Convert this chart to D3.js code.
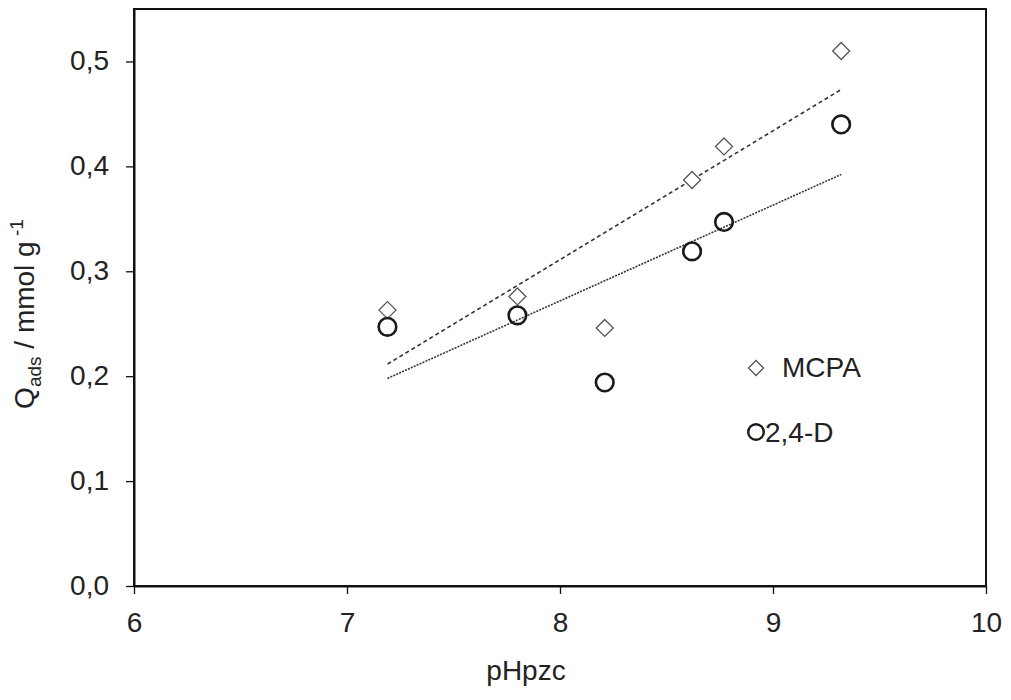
<!DOCTYPE html>
<html>
<head>
<meta charset="utf-8">
<script src="https://cdn.jsdelivr.net/npm/d3@7"></script>
<style>
  html, body { margin: 0; padding: 0; background: #fff; }
  svg { display: block; font-family: "Liberation Sans", Arial, sans-serif; }
</style>
</head>
<body>
<svg id="chart" width="1011" height="700"></svg>
<script>
// pH at the point of zero charge for each adsorbent
const pHpzc = [7.19, 7.80, 8.21, 8.62, 8.77, 9.32];
// adsorbed amount (mmol/g) for each herbicide
const mcpa = [0.263, 0.276, 0.246, 0.387, 0.419, 0.510];
const d24 = [0.247, 0.258, 0.194, 0.319, 0.347, 0.440];
const xTicks = [6, 7, 8, 9, 10];
const yTicks = [0, 0.1, 0.2, 0.3, 0.4, 0.5];

const svg = d3.select("#chart");
const plotLeft = 134, plotRight = 986, plotTop = 9, plotBottom = 586;

const x = d3.scaleLinear().domain([6, 10]).range([plotLeft, plotRight]);
const y = d3.scaleLinear().domain([0, 0.55]).range([plotBottom, plotTop]);

const fmtY = v => d3.format(".1f")(v).replace(".", ",");

// frame
svg.append("rect")
  .attr("x", plotLeft).attr("y", plotTop)
  .attr("width", plotRight - plotLeft).attr("height", plotBottom - plotTop)
  .attr("fill", "none").attr("stroke", "#111").attr("stroke-width", 2);

// axes
const xAxis = svg.append("g")
  .attr("transform", `translate(0,${plotBottom})`)
  .call(d3.axisBottom(x).tickValues(xTicks).tickFormat(d3.format("d"))
    .tickSize(8).tickPadding(10).tickSizeOuter(0));
const yAxis = svg.append("g")
  .attr("transform", `translate(${plotLeft},0)`)
  .call(d3.axisLeft(y).tickValues(yTicks).tickFormat(fmtY)
    .tickSize(8).tickPadding(17).tickSizeOuter(0));

[xAxis, yAxis].forEach(a => {
  a.select(".domain").attr("stroke", "#111").attr("stroke-width", 2);
  a.selectAll(".tick line").attr("stroke", "#111").attr("stroke-width", 1.3);
  a.selectAll(".tick text")
    .attr("fill", "#222")
    .style("font-size", "28px")
    .style("font-family", "'Liberation Sans', Arial, sans-serif");
});
yAxis.selectAll(".tick text").attr("dy", "0.3em");
xAxis.selectAll(".tick text").attr("y", 46).attr("dy", 0);

// axis titles
svg.append("text")
  .attr("x", 526).attr("y", 680)
  .attr("text-anchor", "middle")
  .attr("fill", "#222")
  .style("font-size", "28px")
  .text("pHpzc");

const yt = svg.append("text")
  .attr("transform", "translate(34,314) rotate(-90)")
  .attr("text-anchor", "middle")
  .attr("fill", "#222")
  .style("font-size", "28px");
yt.append("tspan").text("Q");
yt.append("tspan").attr("dy", 7).style("font-size", "19px").text("ads");
yt.append("tspan").attr("dy", -7).text(" / mmol g");
yt.append("tspan").attr("dy", -11).style("font-size", "19px").text(" -1");

// least-squares trend line over the measured range
function fit(xs, ys) {
  const mx = d3.mean(xs), my = d3.mean(ys);
  const sxy = d3.sum(xs, (v, i) => (v - mx) * (ys[i] - my));
  const sxx = d3.sum(xs, v => (v - mx) * (v - mx));
  const b = sxy / sxx, a = my - b * mx;
  const x0 = d3.min(xs), x1 = d3.max(xs);
  return [[x0, a + b * x0], [x1, a + b * x1]];
}
const line = d3.line().x(d => x(d[0])).y(d => y(d[1]));

svg.append("path")
  .attr("d", line(fit(pHpzc, mcpa)))
  .attr("fill", "none").attr("stroke", "#333").attr("stroke-width", 1.6)
  .attr("stroke-dasharray", "4,3");
svg.append("path")
  .attr("d", line(fit(pHpzc, d24)))
  .attr("fill", "none").attr("stroke", "#333").attr("stroke-width", 1.6)
  .attr("stroke-dasharray", "2,1.2");

const diamond = s => `M0,${-s}L${s},0L0,${s}L${-s},0Z`;

// MCPA markers
svg.append("g").selectAll("path")
  .data(pHpzc.map((v, i) => [v, mcpa[i]]))
  .join("path")
  .attr("transform", d => `translate(${x(d[0])},${y(d[1])})`)
  .attr("d", diamond(8.5))
  .attr("fill", "#fff").attr("stroke", "#555").attr("stroke-width", 1.3);

// 2,4-D markers
svg.append("g").selectAll("circle")
  .data(pHpzc.map((v, i) => [v, d24[i]]))
  .join("circle")
  .attr("cx", d => x(d[0])).attr("cy", d => y(d[1]))
  .attr("r", 8.8)
  .attr("fill", "none").attr("stroke", "#1a1a1a").attr("stroke-width", 2.6);

// legend
const lg = svg.append("g");
lg.append("path")
  .attr("transform", "translate(756,368)")
  .attr("d", diamond(7.5))
  .attr("fill", "#fff").attr("stroke", "#555").attr("stroke-width", 1.3);
lg.append("text").attr("x", 782).attr("y", 377)
  .attr("fill", "#222").style("font-size", "28px").text("MCPA");
lg.append("circle").attr("cx", 756).attr("cy", 432).attr("r", 7.8)
  .attr("fill", "none").attr("stroke", "#1a1a1a").attr("stroke-width", 2.4);
lg.append("text").attr("x", 765).attr("y", 442)
  .attr("fill", "#222").style("font-size", "28px").text("2,4-D");
</script>
</body>
</html>
